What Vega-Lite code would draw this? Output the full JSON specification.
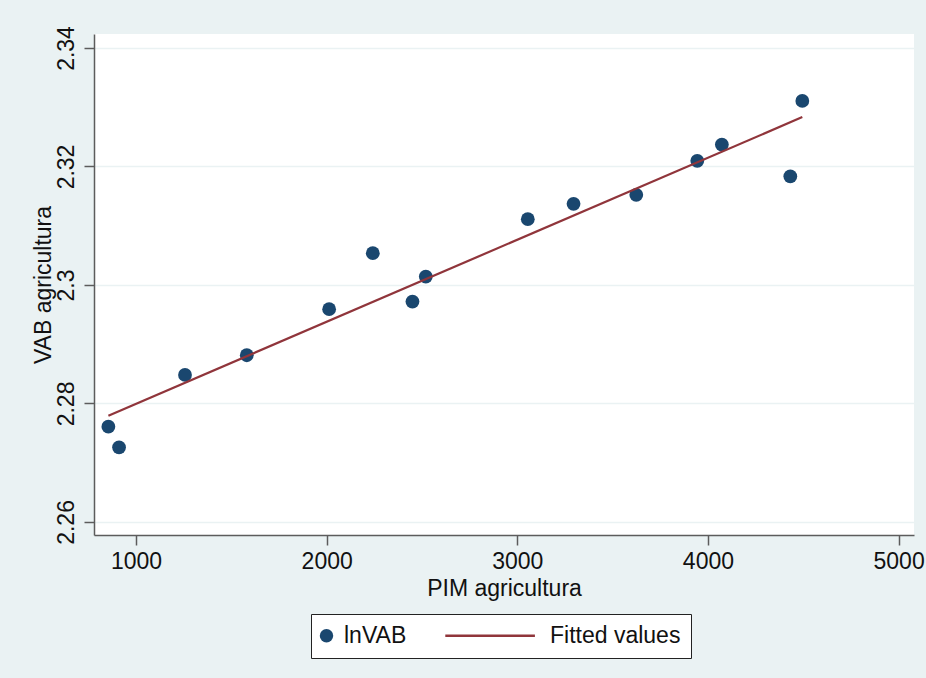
{
  "$schema": "https://vega.github.io/schema/vega-lite/v6.json",
  "width": 820,
  "height": 501,
  "autosize": {"type": "none"},
  "padding": {"left": 94, "top": 34, "right": 12, "bottom": 143},
  "background": "#eaf2f3",
  "config": {
    "view": {"fill": "white", "stroke": null},
    "font": "Liberation Sans",
    "axis": {
      "labelFont": "Liberation Sans",
      "titleFont": "Liberation Sans",
      "labelFontSize": 23,
      "titleFontSize": 23,
      "titleFontWeight": "normal",
      "labelColor": "#111111",
      "titleColor": "#111111",
      "domainColor": "#5c5c5c",
      "domainWidth": 1.5,
      "tickColor": "#5c5c5c",
      "tickWidth": 1.5,
      "tickSize": 10,
      "labelFlush": false,
      "labelOverlap": false
    }
  },
  "data": {
    "values": [
      {"pim": 855, "lnvab": 2.27608, "series": "lnVAB"},
      {"pim": 911, "lnvab": 2.27260, "series": "lnVAB"},
      {"pim": 1257, "lnvab": 2.28481, "series": "lnVAB"},
      {"pim": 1581, "lnvab": 2.28814, "series": "lnVAB"},
      {"pim": 2013, "lnvab": 2.29591, "series": "lnVAB"},
      {"pim": 2242, "lnvab": 2.30537, "series": "lnVAB"},
      {"pim": 2450, "lnvab": 2.29720, "series": "lnVAB"},
      {"pim": 2520, "lnvab": 2.30142, "series": "lnVAB"},
      {"pim": 3055, "lnvab": 2.31111, "series": "lnVAB"},
      {"pim": 3295, "lnvab": 2.31370, "series": "lnVAB"},
      {"pim": 3624, "lnvab": 2.31522, "series": "lnVAB"},
      {"pim": 3944, "lnvab": 2.32096, "series": "lnVAB"},
      {"pim": 4073, "lnvab": 2.32370, "series": "lnVAB"},
      {"pim": 4432, "lnvab": 2.31833, "series": "lnVAB"},
      {"pim": 4495, "lnvab": 2.33106, "series": "lnVAB"}
    ]
  },
  "encoding": {
    "x": {
      "field": "pim",
      "type": "quantitative",
      "title": "PIM agricultura",
      "scale": {"domain": [779.6, 5080.8], "nice": false, "zero": false},
      "axis": {
        "values": [1000, 2000, 3000, 4000, 5000],
        "format": "d",
        "grid": false,
        "labelPadding": 5,
        "titlePadding": 4
      }
    },
    "y": {
      "field": "lnvab",
      "type": "quantitative",
      "title": "VAB agricultura",
      "scale": {"domain": [2.2578, 2.34236], "nice": false, "zero": false},
      "axis": {
        "values": [2.26, 2.28, 2.30, 2.32, 2.34],
        "format": ".2~f",
        "grid": true,
        "gridColor": "#eaf2f3",
        "gridWidth": 1.5,
        "labelAngle": -90,
        "labelAlign": "center",
        "labelBaseline": "bottom",
        "labelPadding": 6,
        "titlePadding": 0
      }
    }
  },
  "layer": [
    {
      "mark": {"type": "point", "filled": true, "opacity": 1, "size": 190},
      "encoding": {
        "color": {
          "field": "series",
          "type": "nominal",
          "scale": {"domain": ["lnVAB", "Fitted values"], "range": ["#1a476f", "#90353b"]},
          "legend": {
            "title": null,
            "orient": "none",
            "legendX": 217,
            "legendY": 580,
            "direction": "horizontal",
            "padding": 10,
            "fillColor": "white",
            "strokeColor": "#222222",
            "labelFont": "Liberation Sans",
            "labelFontSize": 23,
            "labelColor": "#111111",
            "labelOffset": 6,
            "symbolOffset": -6,
            "symbolSize": 180,
            "symbolOpacity": 1,
            "symbolStrokeWidth": 0,
            "columnPadding": 38
          }
        },
        "shape": {
          "field": "series",
          "type": "nominal",
          "scale": {"domain": ["lnVAB", "Fitted values"], "range": ["circle", "M-13,-0.2H0.36V0.2H-13Z"]}
        }
      }
    },
    {
      "transform": [{"regression": "lnvab", "on": "pim"}],
      "mark": {"type": "line", "color": "#90353b", "strokeWidth": 2.2},
      "encoding": {}
    }
  ]
}
